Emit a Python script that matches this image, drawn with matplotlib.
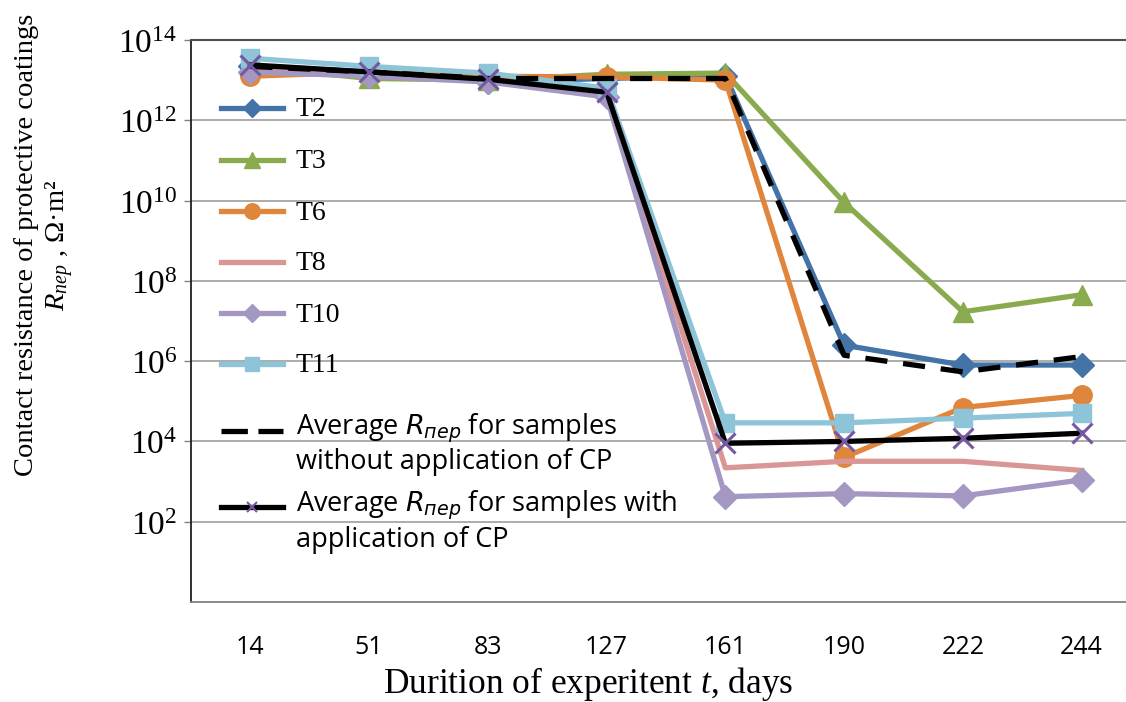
import matplotlib
matplotlib.use('Agg')
import matplotlib.pyplot as plt
from matplotlib.lines import Line2D

# ---------------- data ----------------
days = ['14', '51', '83', '127', '161', '190', '222', '244']
T2 = [2.2e13, 1.6e13, 9e12, 1.1e13, 1.3e13, 2.5e6, 8e5, 8e5]
T3 = [2.2e13, 1.1e13, 1.0e13, 1.4e13, 1.5e13, 9e9, 1.7e7, 4.5e7]
T6 = [1.25e13, 1.6e13, 1.25e13, 1.2e13, 1.0e13, 4e3, 7e4, 1.4e5]
T8 = [1.6e13, 1.6e13, 1.0e13, 4.5e12, 2.2e3, 3.2e3, 3.2e3, 1.9e3]
T10 = [1.6e13, 1.25e13, 9e12, 3.8e12, 4.2e2, 5e2, 4.4e2, 1.1e3]
T11 = [3.5e13, 2.2e13, 1.5e13, 6.3e12, 2.9e4, 2.9e4, 3.8e4, 5e4]
avg_no_cp = [2.2e13, 1.6e13, 1.1e13, 1.1e13, 1.1e13, 1.4e6, 5.4e5, 1.3e6]
avg_cp = [2.4e13, 1.6e13, 1.05e13, 5e12, 9e3, 1e4, 1.2e4, 1.6e4]
ytick_vals = [1e2, 1e4, 1e6, 1e8, 1e10, 1e12, 1e14]
ytick_labels = [r'$\mathrm{10^{2}}$', r'$\mathrm{10^{4}}$', r'$\mathrm{10^{6}}$',
                r'$\mathrm{10^{8}}$', r'$\mathrm{10^{10}}$', r'$\mathrm{10^{12}}$',
                r'$\mathrm{10^{14}}$']

# ---------------- style ----------------
plt.rcParams['mathtext.fontset'] = 'custom'
plt.rcParams['mathtext.rm'] = 'Liberation Serif'
plt.rcParams['mathtext.it'] = 'Liberation Serif:italic'
plt.rcParams['mathtext.bf'] = 'Liberation Serif:bold'

W, H = 1126, 702
fig = plt.figure(figsize=(W / 100, H / 100), dpi=100)


def fx(px):
    return px / W


def fy(py):
    return 1 - py / H


ax = fig.add_axes([fx(191), fy(602), (1141 - 191) / W, (602 - 40) / H])

x = list(range(len(days)))
series = [
    ('T2', T2, '#4473A8', 'D', 12),
    ('T3', T3, '#8AAB4D', '^', 15),
    ('T6', T6, '#E0863C', 'o', 14),
    ('T8', T8, '#D99694', None, 0),
    ('T10', T10, '#A497C2', 'D', 12),
    ('T11', T11, '#8DC4D8', 's', 13),
]
for name, vals, col, mk, ms in series:
    ax.plot(x, vals, color=col, lw=3.8, marker=mk, ms=ms, mec=col, mfc=col,
            solid_joinstyle='round', clip_on=False)

ax.plot(x, avg_no_cp, color='black', lw=3.8, ls=(0, (4.2, 3.0)), clip_on=False)
ax.plot(x, avg_cp, color='black', lw=3.8, marker='x', ms=15, mew=2.2,
        mec='#7458A0', clip_on=False)

ax.set_yscale('log')
ax.set_ylim(1, 1e14)
ax.set_xlim(-0.5, 7.5)
ax.set_yticks(ytick_vals)
ax.set_yticklabels(ytick_labels)
ax.yaxis.set_minor_locator(matplotlib.ticker.NullLocator())
ax.set_xticks(x)
ax.set_xticklabels(days, fontfamily='Open Sans', fontsize=18)
ax.tick_params(axis='x', length=0, pad=24)
ax.tick_params(axis='y', length=5, width=1, color='#808080', pad=5, labelsize=24)
ax.grid(axis='y', color='#A6A6A6', lw=1.3)
ax.set_axisbelow(True)
ax.spines['right'].set_visible(False)
ax.spines['top'].set_color('#505050')
ax.spines['top'].set_linewidth(1.5)
ax.spines['left'].set_color('#202020')
ax.spines['left'].set_linewidth(1.3)
ax.spines['bottom'].set_color('#808080')
ax.spines['bottom'].set_linewidth(1.3)

# ---------------- legend (manual) ----------------
leg_y = [108, 160, 211, 262, 313, 364]
for (name, vals, col, mk, ms), yy in zip(series, leg_y):
    fig.add_artist(Line2D([fx(221), fx(283)], [fy(yy), fy(yy)], color=col, lw=3.8,
                          transform=fig.transFigure))
    if mk is not None:
        fig.add_artist(Line2D([fx(252)], [fy(yy)], marker=mk, ms=ms * 0.8, color=col,
                              transform=fig.transFigure))
    fig.text(fx(296), fy(yy + 2), name, fontfamily='Liberation Serif', fontsize=20,
             ha='left', va='center')

fig.add_artist(Line2D([fx(221), fx(283)], [fy(431), fy(431)], color='black', lw=3.8,
                      ls=(0, (5.0, 2.0)), transform=fig.transFigure, zorder=3))
fig.add_artist(Line2D([fx(221), fx(283)], [fy(507), fy(507)], color='black', lw=3.8,
                      transform=fig.transFigure, zorder=3))
fig.add_artist(Line2D([fx(252)], [fy(507)], marker='x', ms=7, mew=1.5, color='#7458A0',
                      transform=fig.transFigure, zorder=4))
kw = dict(fontfamily='Open Sans', fontsize=19.5, ha='left', va='center',
          math_fontfamily='dejavusans', zorder=4)
fig.text(fx(296), fy(428), r'Average $R_{пер}$ for samples', **kw)
fig.text(fx(296), fy(462), 'without application of CP', **kw)
fig.text(fx(296), fy(505), r'Average $R_{пер}$ for samples with', **kw)
fig.text(fx(296), fy(540), 'application of CP', **kw)

# ---------------- axis titles ----------------
fig.text(fx(45), fy(245),
         'Contact resistance of protective coatings\n' + r'$R_{пер}$ , Ω·m²',
         rotation=90, ha='center', va='center', multialignment='center',
         fontfamily='Liberation Serif', fontsize=20.5, linespacing=1.2)
fig.text(fx(588), fy(684), r'Durition of experitent $t$, days',
         ha='center', va='center', fontfamily='Liberation Serif', fontsize=25.5)

fig.savefig('out.png', dpi=100)
